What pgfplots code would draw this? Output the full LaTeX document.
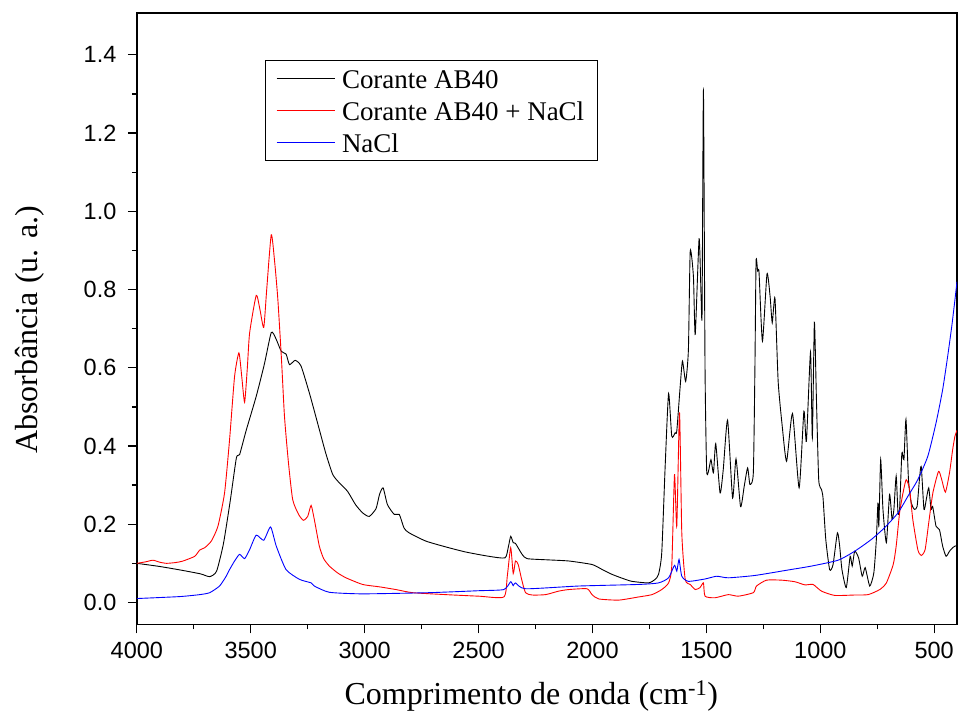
\documentclass[border=0pt]{standalone}
\usepackage{fontspec}
\setmainfont{Liberation Serif}
\newfontfamily\arial{Liberation Sans}
\usepackage{pgfplots}
\pgfplotsset{compat=1.18}
\begin{document}
\begin{tikzpicture}
\begin{axis}[
 width=821pt, height=612pt, scale only axis,
 x dir=reverse, xmin=400, xmax=4000, ymin=-0.056, ymax=1.507,
 xtick={500,1000,1500,2000,2500,3000,3500,4000},
 ytick={0,0.2,0.4,0.6,0.8,1.0,1.2,1.4},
 minor x tick num=1, minor y tick num=1,
 tick align=outside, xtick pos=bottom, ytick pos=left,
 major tick length=9pt, minor tick length=5pt,
 every tick/.style={black, line width=1.3pt},
 axis line style={line width=1.6pt},
 scaled ticks=false,
 /pgf/number format/1000 sep={},
 /pgf/number format/assume math mode=true,
 tick label style={font=\arial\fontsize{23.5}{25}\selectfont},
 xticklabel style={yshift=-5pt},
 yticklabel style={xshift=-8pt, /pgf/number format/.cd, fixed, fixed zerofill, precision=1},
 xlabel={Comprimento de onda (cm\textsuperscript{-1})},
 ylabel={Absorbância (u. a.)},
 label style={font=\fontsize{32}{36}\selectfont},
 xlabel style={at={(axis description cs:0.481,-0.131)}, anchor=base},
 ylabel style={at={(axis description cs:-0.1303,0.482)}, anchor=center},
 legend style={at={(0.156,0.9235)}, anchor=north west, draw=black, line width=0.8pt,
   font=\fontsize{27}{29}\selectfont, inner xsep=11pt, inner ysep=3.5pt, row sep=3pt, column sep=5pt,
   nodes={inner sep=2pt, text height=23pt, text depth=2pt}},
 legend cell align=left,
 legend image code/.code={\draw[#1] (0pt,0pt) -- (58pt,0pt);},
 every axis plot/.append style={line width=0.9pt, smooth, tension=0.35},
]
% Corante AB40
\addplot[black] coordinates {
(4000,0.100) (3900,0.092) (3800,0.082) (3720,0.073) (3680,0.066) (3650,0.08) (3620,0.15) (3590,0.26) (3563,0.37) (3549,0.378) (3520,0.44) (3476,0.527) (3440,0.61) (3410,0.69) (3390,0.675) (3366,0.642) (3345,0.635) (3330,0.608) (3305,0.619) (3279,0.604) (3240,0.53) (3199,0.442) (3170,0.38) (3140,0.327) (3110,0.305) (3075,0.284) (3040,0.25) (3009,0.229) (2980,0.22) (2950,0.24) (2935,0.276) (2919,0.293) (2900,0.25) (2870,0.225) (2848,0.225) (2827,0.19) (2805,0.178) (2732,0.157) (2644,0.142) (2557,0.129) (2455,0.118) (2384,0.114) (2370,0.14) (2359,0.169) (2348,0.153) (2338,0.151) (2309,0.123) (2287,0.112) (2200,0.109) (2104,0.106) (2002,0.097) (1960,0.085) (1915,0.072) (1870,0.062) (1827,0.054) (1754,0.05) (1725,0.059) (1710,0.072) (1696,0.127) (1681,0.348) (1666,0.534) (1652,0.425) (1637,0.434) (1630,0.438) (1615,0.553) (1605,0.617) (1591,0.565) (1579,0.646) (1571,0.898) (1557,0.834) (1549,0.685) (1532,0.93) (1523,0.774) (1519,0.74) (1513,1.309) (1506,0.6) (1499,0.34) (1491,0.335) (1480,0.365) (1469,0.331) (1459,0.406) (1440,0.28) (1426,0.34) (1407,0.466) (1385,0.267) (1370,0.367) (1350,0.245) (1334,0.297) (1319,0.344) (1309,0.302) (1294,0.331) (1287,0.6) (1282,0.872) (1275,0.847) (1269,0.844) (1254,0.668) (1234,0.84) (1220,0.78) (1211,0.715) (1199,0.778) (1185,0.565) (1167,0.45) (1148,0.361) (1122,0.483) (1093,0.293) (1072,0.489) (1061,0.412) (1043,0.64) (1035,0.421) (1026,0.716) (1017,0.519) (1007,0.314) (995,0.289) (988,0.267) (976,0.161) (959,0.084) (944,0.097) (925,0.178) (915,0.144) (905,0.084) (886,0.038) (869,0.118) (860,0.093) (849,0.131) (832,0.114) (816,0.067) (803,0.089) (783,0.042) (765,0.076) (754,0.161) (747,0.255) (743,0.195) (735,0.365) (725,0.238) (710,0.153) (696,0.276) (685,0.212) (677,0.238) (667,0.323) (659,0.229) (652,0.238) (642,0.382) (633,0.365) (624,0.468) (613,0.314) (601,0.255) (587,0.238) (575,0.246) (565,0.314) (557,0.348) (545,0.238) (535,0.263) (524,0.293) (514,0.238) (507,0.246) (492,0.195) (477,0.186) (463,0.144) (448,0.118) (433,0.131) (419,0.14) (409,0.144) (400,0.145)
};
% Corante AB40 + NaCl
\addplot[red] coordinates {
(4000,0.100) (3960,0.104) (3929,0.108) (3900,0.103) (3870,0.100) (3830,0.102) (3797,0.106) (3746,0.118) (3724,0.134) (3702,0.14) (3673,0.157) (3644,0.195) (3615,0.28) (3593,0.416) (3571,0.578) (3552,0.638) (3540,0.58) (3527,0.512) (3515,0.6) (3505,0.689) (3476,0.785) (3460,0.75) (3443,0.703) (3430,0.8) (3410,0.94) (3395,0.87) (3381,0.774) (3365,0.62) (3352,0.476) (3335,0.36) (3316,0.263) (3290,0.225) (3269,0.21) (3250,0.22) (3235,0.248) (3221,0.212) (3199,0.144) (3180,0.112) (3155,0.093) (3120,0.076) (3082,0.063) (3009,0.046) (2936,0.04) (2863,0.033) (2790,0.025) (2644,0.02) (2498,0.016) (2389,0.014) (2374,0.067) (2359,0.14) (2348,0.074) (2338,0.106) (2326,0.097) (2311,0.059) (2294,0.025) (2265,0.019) (2206,0.02) (2148,0.029) (2104,0.033) (2024,0.035) (2002,0.02) (1973,0.009) (1885,0.006) (1798,0.014) (1739,0.02) (1696,0.033) (1666,0.05) (1652,0.093) (1640,0.327) (1630,0.195) (1618,0.486) (1608,0.178) (1593,0.059) (1571,0.046) (1549,0.033) (1528,0.038) (1513,0.05) (1506,0.016) (1462,0.012) (1404,0.02) (1360,0.016) (1294,0.025) (1280,0.042) (1236,0.057) (1170,0.057) (1112,0.053) (1068,0.045) (1032,0.046) (995,0.029) (937,0.018) (850,0.019) (790,0.02) (739,0.033) (710,0.05) (680,0.097) (667,0.144) (652,0.229) (637,0.28) (623,0.314) (608,0.289) (594,0.212) (572,0.135) (557,0.12) (540,0.135) (524,0.204) (506,0.28) (481,0.335) (467,0.314) (451,0.282) (433,0.331) (419,0.391) (409,0.425) (400,0.44)
};
% NaCl
\addplot[blue] coordinates {
(4000,0.01) (3812,0.015) (3724,0.02) (3680,0.025) (3637,0.042) (3610,0.065) (3593,0.084) (3571,0.106) (3549,0.123) (3527,0.112) (3505,0.135) (3476,0.172) (3443,0.159) (3413,0.193) (3388,0.144) (3345,0.084) (3286,0.059) (3235,0.05) (3221,0.042) (3155,0.026) (3009,0.022) (2717,0.025) (2500,0.03) (2389,0.033) (2359,0.053) (2348,0.043) (2338,0.05) (2294,0.035) (2060,0.042) (1798,0.046) (1710,0.05) (1666,0.063) (1640,0.095) (1630,0.08) (1620,0.11) (1608,0.067) (1579,0.054) (1506,0.06) (1455,0.067) (1404,0.063) (1287,0.069) (1141,0.083) (1039,0.093) (922,0.108) (849,0.131) (776,0.161) (718,0.191) (659,0.229) (615,0.272) (572,0.314) (528,0.374) (492,0.459) (463,0.544) (441,0.629) (423,0.706) (409,0.774) (400,0.82)
};
\legend{Corante AB40, Corante AB40 + NaCl, NaCl}
\end{axis}
\pgfresetboundingbox
\path ([shift={(-137pt,-88pt)}]current axis.south west) rectangle ([shift={(1pt,13pt)}]current axis.north east);
\end{tikzpicture}
\end{document}
